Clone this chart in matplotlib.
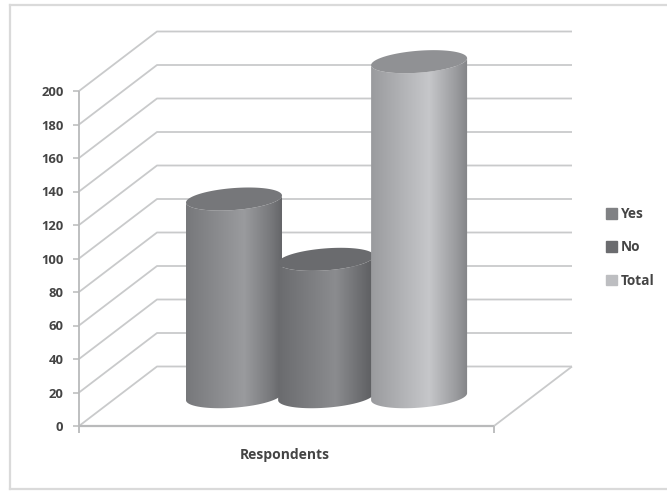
import numpy as np
import matplotlib
matplotlib.use("Agg")
import matplotlib.pyplot as plt
from matplotlib.patches import Patch, Polygon
from matplotlib.lines import Line2D
from matplotlib.colors import LinearSegmentedColormap

W, H = 667, 491

series = ["Yes", "No", "Total"]
values = [118, 82, 200]
category = "Respondents"
yticks = list(range(0, 201, 20))

# (edge, highlight, far edge, top face, legend swatch)
shades = [
    ("#77787b", "#9a9b9e", "#636467", "#76777a", "#808184"),
    ("#6a6b6e", "#8b8c8f", "#5c5d60", "#6a6b6e", "#6b6c6f"),
    ("#9a9b9e", "#c6c7ca", "#838487", "#909194", "#bdbec1"),
]

plt.rcParams["font.family"] = ["Open Sans", "DejaVu Sans"]
plt.rcParams["font.weight"] = "bold"
TEXT = "#444444"

fig = plt.figure(figsize=(W / 100, H / 100), dpi=100, facecolor="white")

# front plane of the box: x runs 0..1 along the floor edge, y is the value
X0, X1, Y0, Y200 = 79, 494, 426, 91
ax = fig.add_axes([X0 / W, 1 - Y0 / H, (X1 - X0) / W, (Y0 - Y200) / H])
ax.set_xlim(0, 1)
ax.set_ylim(0, 200)
ax.patch.set_visible(False)
for s in ax.spines.values():
    s.set_visible(False)

ux = 1 / (X1 - X0)
uy = 200 / (Y0 - Y200)
depth_x, depth_y = 78 * ux, 59.5 * uy

GRID = "#c9cacb"
AXIS = "#b9babb"

def line(xs, ys, color=GRID, lw=1.3):
    ax.plot(xs, ys, color=color, lw=lw, clip_on=False, solid_capstyle="butt", zorder=1)

for v in yticks:
    line([0, depth_x, 1 + depth_x], [v, v + depth_y, v + depth_y])
line([1, 1 + depth_x], [0, depth_y])

line([0, 0], [-4, 200], color=AXIS)
line([0, 1], [0, 0], color=AXIS, lw=1.6)
line([1, 1], [-4, 0], color=AXIS)

ax.set_xticks([])
ax.set_yticks(yticks)
ax.set_yticklabels([str(v) for v in yticks], color=TEXT, fontsize=9.4)
ax.tick_params(axis="y", length=4.2, width=1.1, color=AXIS, pad=7)

ax.text(0.495, -17.5, category, ha="center", va="center", color=TEXT, fontsize=10)

# cylinders
centres = [0.3735, 0.5955, 0.8195]
half_w = 48 * ux
half_h = 11 * uy
skew = 3.5 * uy
base = 17.5

def rim(cx, level, t):
    return cx + half_w * np.cos(t), level + half_h * np.sin(t) + skew * np.cos(t)

for cx, v, (c0, c1, c2, top, _) in zip(centres, values, shades):
    level = base + v
    front = np.linspace(0, -np.pi, 80)
    xb, yb = rim(cx, base, front)
    xt, yt = rim(cx, level, front[::-1])
    body = Polygon(np.column_stack([np.r_[xb, xt], np.r_[yb, yt]]), closed=True,
                   transform=ax.transData, visible=False)
    ax.add_patch(body)
    cmap = LinearSegmentedColormap.from_list(
        "cyl", [(0, c0), (0.6, c1), (0.88, c0), (1, c2)])
    im = ax.imshow(np.linspace(0, 1, 256)[None, :], cmap=cmap, aspect="auto",
                   extent=(cx - half_w, cx + half_w, 0, level + half_h + skew),
                   zorder=3)
    im.set_clip_box(fig.bbox)
    im.set_clip_path(body)
    t = np.linspace(0, 2 * np.pi, 120)
    xe, ye = rim(cx, level, t)
    ax.fill(xe, ye, color=top, lw=0, zorder=3, clip_on=False)

ax.set_xlim(0, 1)
ax.set_ylim(0, 200)

handles = [Patch(color=s[4], label=n) for n, s in zip(series, shades)]
fig.legend(handles=handles, loc="center left", bbox_to_anchor=(594 / W, 1 - 247.5 / H),
           frameon=False, handlelength=0.82, handleheight=0.82, handletextpad=0.28,
           labelspacing=1.42, labelcolor=TEXT, fontsize=9.8)

# chart frame: left, top and bottom edges
frame = dict(color="#dadada", lw=1.6, transform=fig.transFigure)
fig.add_artist(Line2D([10 / W, 10 / W], [1 - 5 / H, 1 - 489 / H], **frame))
fig.add_artist(Line2D([10 / W, 1], [1 - 5 / H, 1 - 5 / H], **frame))
fig.add_artist(Line2D([10 / W, 1], [1 - 489 / H, 1 - 489 / H], **frame))

fig.savefig("out.png", dpi=100)
